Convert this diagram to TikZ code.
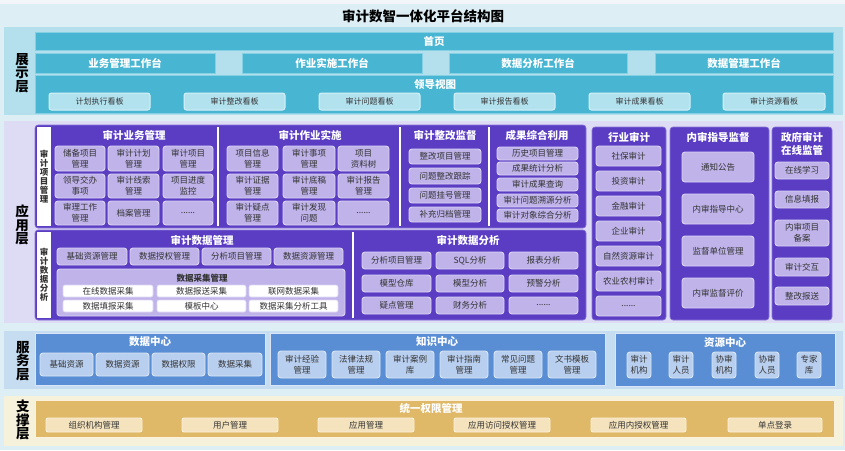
\documentclass[tikz,border=0pt]{standalone}
\usepackage{fontspec}
\setmainfont{Noto Sans CJK SC}
\definecolor{pagebg}{HTML}{DDEEF4}
\definecolor{topbg}{HTML}{F3F6F8}
\definecolor{dispout}{HTML}{B3E0EC}
\definecolor{cyanbar}{HTML}{48B6D2}
\definecolor{cyanedge}{HTML}{86D0E3}
\definecolor{boardfill}{HTML}{B3E2EF}
\definecolor{boardedge}{HTML}{D6F0F7}
\definecolor{appout}{HTML}{DEDBF5}
\definecolor{purp}{HTML}{5A3DC3}
\definecolor{purpedge}{HTML}{8A74D8}
\definecolor{pbtn}{HTML}{BFB3E9}
\definecolor{pbtnedge}{HTML}{DCD5F6}
\definecolor{subpanel}{HTML}{B6AAE5}
\definecolor{svcout}{HTML}{C6DCF0}
\definecolor{bblk}{HTML}{5A8ED4}
\definecolor{bbtn}{HTML}{B9CFEF}
\definecolor{bbtnedge}{HTML}{DAE6F7}
\definecolor{supout}{HTML}{F6F1DB}
\definecolor{gold}{HTML}{DFB968}
\definecolor{goldbtn}{HTML}{F5E3BE}
\definecolor{goldedge}{HTML}{FBF1DC}
\definecolor{txt}{HTML}{333333}
\newcommand\bx[7]{\node[#2,minimum width={(#5)-(#3)},minimum height={(#6)-(#4)}] (#1) at ({((#3)+(#5))/2},{((#4)+(#6))/2}) {#7};}
\tikzset{
  x=1pt,y=-1pt,
  every node/.style={inner sep=0pt,outer sep=0pt,align=center},
  titlef/.style={font=\fontsize{13.5}{15}\selectfont\bfseries,text=black},
  layerlbl/.style={font=\fontsize{13.5}{13.5}\selectfont\bfseries,text=black},
  striplbl/.style={font=\fontsize{8.5}{9}\selectfont\bfseries,text=txt},
  panel/.style={fill=#1,draw=none},
  cbar/.style={fill=cyanbar,draw=cyanedge,line width=0.8pt,text=white,font=\fontsize{10.5}{12}\selectfont\bfseries},
  board/.style={fill=boardfill,draw=boardedge,line width=1pt,rounded corners=2.5pt,text=txt,font=\fontsize{8}{10}\selectfont},
  pblk/.style={fill=purp,draw=purpedge,line width=0.6pt,rounded corners=3pt},
  hdr/.style={text=white,font=\fontsize{10.5}{13.5}\selectfont\bfseries},
  dhdr/.style={text=txt,font=\fontsize{8.5}{10}\selectfont\bfseries},
  pbtn/.style={fill=pbtn,draw=pbtnedge,line width=0.9pt,rounded corners=3pt,text=txt,font=\fontsize{8.5}{11}\selectfont},
  wbtn/.style={fill=white,draw=pbtnedge,line width=0.6pt,rounded corners=2pt,text=txt,font=\fontsize{8.5}{10}\selectfont},
  wstrip/.style={fill=white,draw=none},
  divline/.style={draw=white,line width=2.5pt},
  bpanel/.style={fill=bblk,draw=bbtnedge,line width=0.5pt},
  bbtn/.style={fill=bbtn,draw=bbtnedge,line width=0.9pt,rounded corners=3pt,text=txt,font=\fontsize{8.5}{11}\selectfont},
  gpanel/.style={fill=gold,draw=goldedge,line width=0.5pt},
  gbtn/.style={fill=goldbtn,draw=goldedge,line width=0.9pt,rounded corners=2pt,text=txt,font=\fontsize{8.5}{10}\selectfont},
}
\begin{document}
\begin{tikzpicture}
\useasboundingbox[fill=pagebg] (0,0) rectangle (845,450);
\fill[topbg] (0,0) rectangle (845,4);
\node[titlef] (title) at (423,16) {审计数智一体化平台结构图};

% ---------- display layer
\bx{disp}{panel=dispout}{4}{27}{843}{115}{}
\node[layerlbl] (displbl) at (22,73) {展\\示\\层};
\bx{home}{cbar}{35}{32}{833}{50}{首页}
\bx{wb1}{cbar}{35}{53}{215}{73}{业务管理工作台}
\bx{wb2}{cbar}{242}{53}{422}{73}{作业实施工作台}
\bx{wb3}{cbar}{449}{53}{627}{73}{数据分析工作台}
\bx{wb4}{cbar}{655}{53}{833}{73}{数据管理工作台}
\bx{lead}{cbar}{35}{75}{833}{113}{}
\node[hdr] (leadt) at (435,85) {领导视图};
\bx{bd1}{board}{49}{93}{150}{110}{计划执行看板}
\bx{bd2}{board}{184}{93}{285}{110}{审计整改看板}
\bx{bd3}{board}{319}{93}{420}{110}{审计问题看板}
\bx{bd4}{board}{454}{93}{555}{110}{审计报告看板}
\bx{bd5}{board}{589}{93}{690}{110}{审计成果看板}
\bx{bd6}{board}{723}{93}{825}{110}{审计资源看板}

% ---------- application layer
\bx{app}{panel=appout}{4}{121}{843}{323}{}
\node[layerlbl] (applbl) at (22,225) {应\\用\\层};
\bx{bizblk}{pblk}{35}{125}{586}{228}{}
\bx{strip1}{wstrip}{37}{127}{51}{226}{}
\node[striplbl] (strip1t) at (44,177) {审\\计\\项\\目\\管\\理};
\draw[divline] (218,127) -- (218,226);
\draw[divline] (400,127) -- (400,226);
\draw[divline] (489,127) -- (489,226);
\node[hdr] (h1) at (134,135) {审计业务管理};
\node[hdr] (h2) at (310,135) {审计作业实施};
\node[hdr] (h3) at (445,135) {审计整改监督};
\node[hdr] (h4) at (537,135) {成果综合利用};
% 审计业务管理
\bx{a11}{pbtn}{55}{146}{105}{171}{储备项目\\管理}
\bx{a12}{pbtn}{108}{146}{159}{171}{审计计划\\管理}
\bx{a13}{pbtn}{163}{146}{213}{171}{审计项目\\管理}
\bx{a21}{pbtn}{55}{174}{105}{198}{领导交办\\事项}
\bx{a22}{pbtn}{108}{174}{159}{198}{审计线索\\管理}
\bx{a23}{pbtn}{163}{174}{213}{198}{项目进度\\监控}
\bx{a31}{pbtn}{55}{201}{105}{225}{审理工作\\管理}
\bx{a32}{pbtn}{108}{201}{159}{225}{档案管理}
\bx{a33}{pbtn}{163}{201}{213}{225}{......}
% 审计作业实施
\bx{b11}{pbtn}{227}{146}{278}{171}{项目信息\\管理}
\bx{b12}{pbtn}{283}{146}{335}{171}{审计事项\\管理}
\bx{b13}{pbtn}{338}{146}{389}{171}{项目\\资料树}
\bx{b21}{pbtn}{227}{174}{278}{198}{审计证据\\管理}
\bx{b22}{pbtn}{283}{174}{335}{198}{审计底稿\\管理}
\bx{b23}{pbtn}{338}{174}{389}{198}{审计报告\\管理}
\bx{b31}{pbtn}{227}{201}{278}{225}{审计疑点\\管理}
\bx{b32}{pbtn}{283}{201}{335}{225}{审计发现\\问题}
\bx{b33}{pbtn}{338}{201}{389}{225}{......}
% 审计整改监督
\bx{c1}{pbtn}{409}{149}{481}{164}{整改项目管理}
\bx{c2}{pbtn}{409}{168}{481}{184}{问题整改跟踪}
\bx{c3}{pbtn}{409}{188}{481}{203}{问题挂号管理}
\bx{c4}{pbtn}{409}{207}{481}{222}{补充归档管理}
% 成果综合利用
\bx{d1}{pbtn}{497}{147}{578}{160}{历史项目管理}
\bx{d2}{pbtn}{497}{162}{578}{175}{成果统计分析}
\bx{d3}{pbtn}{497}{178}{578}{191}{审计成果查询}
\bx{d4}{pbtn}{497}{194}{578}{207}{审计问题溯源分析}
\bx{d5}{pbtn}{497}{209}{578}{222}{审计对象综合分析}
% 行业审计
\bx{ind}{pblk}{592}{127}{666}{320}{}
\node[hdr] (h5) at (629,137) {行业审计};
\bx{e1}{pbtn}{596}{146}{661}{166}{社保审计}
\bx{e2}{pbtn}{596}{171}{661}{191}{投资审计}
\bx{e3}{pbtn}{596}{196}{661}{216}{金融审计}
\bx{e4}{pbtn}{596}{221}{661}{241}{企业审计}
\bx{e5}{pbtn}{596}{246}{661}{266}{自然资源审计}
\bx{e6}{pbtn}{596}{271}{661}{291}{农业农村审计}
\bx{e7}{pbtn}{596}{296}{661}{316}{......}
% 内审指导监督
\bx{gui}{pblk}{670}{127}{769}{320}{}
\node[hdr] (h6) at (718,137) {内审指导监督};
\bx{f1}{pbtn}{682}{152}{754}{182}{通知公告}
\bx{f2}{pbtn}{682}{194}{754}{224}{内审指导中心}
\bx{f3}{pbtn}{682}{236}{754}{266}{监督单位管理}
\bx{f4}{pbtn}{682}{278}{754}{308}{内审监督评价}
% 政府审计在线监管
\bx{gov}{pblk}{772}{127}{832}{320}{}
\node[hdr] (h7) at (802,144) {政府审计\\在线监管};
\bx{g1}{pbtn}{775}{162}{829}{179}{在线学习}
\bx{g2}{pbtn}{775}{191}{829}{208}{信息填报}
\bx{g3}{pbtn}{775}{220}{829}{246}{内审项目\\备案}
\bx{g4}{pbtn}{775}{258}{829}{276}{审计交互}
\bx{g5}{pbtn}{775}{287}{829}{305}{整改报送}
% 审计数据分析 block
\bx{datblk}{pblk}{35}{230}{586}{320}{}
\bx{strip2}{wstrip}{37}{232}{51}{318}{}
\node[striplbl] (strip2t) at (44,275) {审\\计\\数\\据\\分\\析};
\draw[divline] (353,232) -- (353,318);
\node[hdr] (h8) at (202,240) {审计数据管理};
\bx{m1}{pbtn}{57}{248}{127}{265}{基础资源管理}
\bx{m2}{pbtn}{130}{248}{199}{265}{数据授权管理}
\bx{m3}{pbtn}{202}{248}{271}{265}{分析项目管理}
\bx{m4}{pbtn}{274}{248}{343}{265}{数据资源管理}
\bx{coll}{pbtn}{57}{269}{345}{316}{}
\node[dhdr] (h9) at (202,278) {数据采集管理};
\bx{n11}{wbtn}{63}{285}{153}{297}{在线数据采集}
\bx{n12}{wbtn}{157}{285}{246}{297}{数据报送采集}
\bx{n13}{wbtn}{249}{285}{338}{297}{联网数据采集}
\bx{n21}{wbtn}{63}{300}{153}{312}{数据填报采集}
\bx{n22}{wbtn}{157}{300}{246}{312}{模板中心}
\bx{n23}{wbtn}{249}{300}{338}{312}{数据采集分析工具}
\node[hdr] (h10) at (468,240) {审计数据分析};
\bx{p11}{pbtn}{362}{252}{431}{269}{分析项目管理}
\bx{p12}{pbtn}{436}{252}{504}{269}{SQL分析}
\bx{p13}{pbtn}{509}{252}{578}{269}{报表分析}
\bx{p21}{pbtn}{362}{275}{431}{292}{模型仓库}
\bx{p22}{pbtn}{436}{275}{504}{292}{模型分析}
\bx{p23}{pbtn}{509}{275}{578}{292}{预警分析}
\bx{p31}{pbtn}{362}{297}{431}{314}{疑点管理}
\bx{p32}{pbtn}{436}{297}{504}{314}{财务分析}
\bx{p33}{pbtn}{509}{297}{578}{314}{......}

% ---------- service layer
\bx{svc}{panel=svcout}{4}{331}{843}{389}{}
\node[layerlbl] (svclbl) at (23,361) {服\\务\\层};
\bx{dc}{bpanel}{35}{333}{265}{385}{}
\node[hdr] (h11) at (150,342) {数据中心};
\bx{s1}{bbtn}{40}{353}{93}{376}{基础资源}
\bx{s2}{bbtn}{96}{353}{149}{376}{数据资源}
\bx{s3}{bbtn}{152}{353}{205}{376}{数据权限}
\bx{s4}{bbtn}{208}{353}{262}{376}{数据采集}
\bx{kc}{bpanel}{270}{333}{605}{385}{}
\node[hdr] (h12) at (437,342) {知识中心};
\bx{k1}{bbtn}{278}{351}{326}{378}{审计经验\\管理}
\bx{k2}{bbtn}{332}{351}{380}{378}{法律法规\\管理}
\bx{k3}{bbtn}{386}{351}{434}{378}{审计案例\\库}
\bx{k4}{bbtn}{440}{351}{488}{378}{审计指南\\管理}
\bx{k5}{bbtn}{494}{351}{542}{378}{常见问题\\管理}
\bx{k6}{bbtn}{548}{351}{596}{378}{文书模板\\管理}
\bx{rc}{bpanel}{615}{333}{835}{386}{}
\node[hdr] (h13) at (725,343) {资源中心};
\bx{r1}{bbtn}{627}{352}{651}{378}{审计\\机构}
\bx{r2}{bbtn}{669}{352}{693}{378}{审计\\人员}
\bx{r3}{bbtn}{712}{352}{736}{378}{协审\\机构}
\bx{r4}{bbtn}{755}{352}{779}{378}{协审\\人员}
\bx{r5}{bbtn}{797}{352}{821}{378}{专家\\库}

% ---------- support layer
\bx{sup}{panel=supout}{4}{396}{843}{446}{}
\node[layerlbl] (suplbl) at (23,420) {支\\撑\\层};
\bx{perm}{gpanel}{35}{400}{834}{437}{}
\node[hdr] (h14) at (431,408) {统一权限管理};
\bx{u1}{gbtn}{46}{418}{142}{432}{组织机构管理}
\bx{u2}{gbtn}{182}{418}{278}{432}{用户管理}
\bx{u3}{gbtn}{318}{418}{414}{432}{应用管理}
\bx{u4}{gbtn}{454}{418}{550}{432}{应用访问授权管理}
\bx{u5}{gbtn}{591}{418}{686}{432}{应用内授权管理}
\bx{u6}{gbtn}{728}{418}{822}{432}{单点登录}
\end{tikzpicture}
\end{document}
